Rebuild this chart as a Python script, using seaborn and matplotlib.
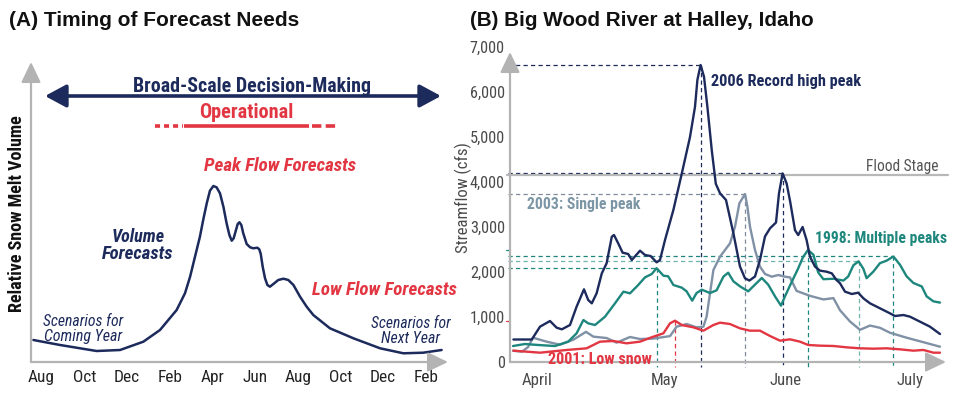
import numpy as np
import pandas as pd
import matplotlib
matplotlib.use("Agg")
import matplotlib.pyplot as plt
import seaborn as sns
from matplotlib import font_manager as fm

# ---------------- data: panel A (conceptual snow-melt curve) ----------------
# x = months after the first August (0=Aug, 2=Oct, ... 18=Feb)
months_A = [-0.38, 0.87, 2.58, 3.68, 4.77, 5.55, 6.33, 6.72, 6.96, 7.19, 7.42,
            7.58, 7.74, 7.89, 8.05, 8.20, 8.36, 8.52, 8.67, 8.80, 8.91, 9.00,
            9.11, 9.19, 9.27, 9.36, 9.45, 9.61, 9.77, 9.92, 10.11, 10.20, 10.27,
            10.36, 10.47, 10.58, 10.70, 10.86, 11.09, 11.33, 11.56, 11.80, 12.11,
            12.42, 12.73, 13.51, 14.61, 15.86, 16.95, 17.88, 18.74]
volume_A = [22, 17, 11, 12, 20.3, 32, 52, 68.7, 85.3, 105.3, 125.3,
            142.7, 158.7, 171.3, 176, 174.7, 168.7, 155.3, 138.7, 127, 121.3, 123.7,
            132, 138, 139.7, 137, 128.7, 118, 114.7, 113.7, 114.3, 112.7, 108,
            95.3, 83.7, 77, 75.3, 78, 82, 83.3, 82, 77, 65.3,
            55.3, 47, 33.7, 23.7, 13.7, 8.7, 9.3, 12]
ticks_A = [0, 2, 4, 6, 8, 10, 12, 14, 16, 18]
ticklabels_A = ["Aug", "Oct", "Dec", "Feb", "Apr", "Jun", "Aug", "Oct", "Dec", "Feb"]

# ---------------- data: panel B (Big Wood River streamflow, cfs) ----------------
# x = days after 1 April
day_2006 = [0.1, 4.7, 6.75, 9.25, 10.9, 12.2, 14.25, 15.9, 17.75, 18.8, 19.7, 20.9,
            22.2, 23.4, 24.7, 25.25, 26.3, 27.4, 28.8, 29.7, 31.75, 33.0, 34.4,
            35.9, 36.75, 38.0, 40.1, 42.2, 44.25, 45.5, 46.1, 46.9, 47.75, 48.6,
            49.7, 50.7, 51.75, 53.25, 53.8, 55.1, 56.75, 58.0, 59.1, 60.5, 61.75,
            63.0, 64.25, 65.75, 66.5, 67.4, 68.4, 69.3, 70.5, 71.3, 72.4, 73.4,
            74.25, 75.5, 76.75, 78.4, 79.7, 80.9, 81.75, 83.0, 84.7, 86.3, 87.6,
            89.25, 91.75, 94.25, 95.5, 97.6, 99.25, 101.75, 104.25, 106.75]
cfs_2006 = [500, 500, 785, 911, 763, 726, 822, 1230, 1615, 1378, 1304, 1526,
            1970, 2193, 2785, 2822, 2637, 2430, 2400, 2267, 2474, 2378, 2355,
            2215, 2267, 2710, 3380, 4190, 5000, 5670, 6270, 6600, 6340, 5670,
            4700, 3960, 3750, 3600, 3380, 2860, 2120, 1860, 1810, 1900, 2270,
            2790, 2970, 3100, 3750, 4190, 3970, 3560, 2930, 2820, 3000, 2710,
            2340, 2120, 2030, 2007, 1970, 1820, 1750, 1563, 1511, 1540, 1415,
            1304, 1193, 1081, 1022, 1044, 1007, 896, 785, 622]

day_2003 = [0, 2.25, 3.75, 5, 8.4, 11.75, 15.1, 18.25, 20.1, 23.4, 25.9, 29.25,
            31.75, 35, 39.25, 40.9, 43.4, 45.9, 47.6, 48.4, 49.25, 50.1, 51.75,
            54.25, 55.5, 56.6, 58, 58.6, 59.25, 60.5, 61.75, 63, 64.7, 66.3, 68,
            69.25, 70.9, 74.25, 77.6, 80.1, 81.75, 84.25, 86.75, 89.25, 91.75,
            94.25, 98.4, 102.6, 106.75]
cfs_2003 = [250, 230, 330, 540, 452, 385, 496, 670, 563, 533, 430, 556,
            511, 520, 575, 785, 844, 770, 785, 1007, 1526, 2044, 2340,
            2637, 3007, 3526, 3733, 3452, 3007, 2489, 2118, 1956, 1896, 1933, 1896,
            1880, 1580, 1470, 1390, 1420, 1150, 900, 715, 810, 760,
            650, 540, 440, 340]

day_1998 = [0, 3, 6.3, 10.5, 13.8, 15.9, 17.6, 18.8, 20.5, 23, 25.5, 27.6, 29.25,
            31.3, 33, 34.7, 35.9, 37.6, 38.8, 40.1, 42.2, 43.4, 44.8, 45.9, 47.2,
            49.25, 50.9, 52.6, 53.8, 55.1, 56.75, 58.8, 60.5, 62.2, 63.8, 65.5,
            67, 68, 69.25, 71.3, 72.5, 73.75, 75.1, 76.3, 77.6, 80.1, 82.6, 83.8,
            85.1, 86.4, 87.6, 88.4, 90.1, 91.75, 93.4, 95.1, 96.75, 98.4, 100.1,
            102.2, 103.4, 105.1, 106.75]
cfs_1998 = [355, 400, 378, 355, 452, 637, 933, 859, 822, 1007, 1304, 1563, 1526,
            1711, 1881, 1956, 2085, 1919, 1904, 1711, 1652, 1570, 1363, 1533, 1607,
            1533, 1593, 1896, 1985, 1793, 1681, 1570, 1719, 1867, 1719, 1459,
            1252, 1459, 1700, 2081, 2330, 2489, 2385, 1990, 1840, 1850, 1810, 1900,
            2150, 2237, 2070, 1862, 2010, 2197, 2252, 2345, 2160, 1904, 1756,
            1678, 1459, 1348, 1320]

day_2001 = [0.1, 6.75, 13.4, 18.4, 21.75, 25.1, 28.4, 31.75, 35.1, 37.6, 39.25,
            40.5, 42.2, 45.1, 47.6, 50.1, 51.75, 54.25, 56.75, 59.25, 61.75, 64.25,
            66.75, 69.25, 71.75, 73.8, 76.75, 80.1, 83.4, 86.75, 90.1, 93.4, 96.75,
            100.1, 102.6, 105.1, 106.75]
cfs_2001 = [252, 207, 267, 304, 452, 467, 415, 452, 563, 637, 859,
            918, 822, 770, 696, 822, 874, 844, 748, 696, 696, 578,
            474, 504, 452, 378, 363, 356, 326, 304, 296, 304, 281,
            252, 267, 207, 207]

FLOOD_STAGE = 4150
ticks_B = [6, 38, 68.25, 99.25]
ticklabels_B = ["April", "May", "June", "July"]
yticks_B = [0, 1000, 2000, 3000, 4000, 5000, 6000, 7000]

# ---------------- style ----------------
sns.set_theme(style="white")
names = {f.name for f in fm.fontManager.ttflist}
NARROW = "Liberation Sans"
for cand in ["Liberation Sans Narrow", "Arial Narrow", "Roboto Condensed",
             "Noto Sans Condensed", "Open Sans Condensed", "DejaVu Sans Condensed"]:
    if cand in names:
        NARROW = cand
        break
WIDE = "Liberation Sans"
plt.rcParams["font.family"] = [NARROW, "DejaVu Sans"]

NAVY = "#1c2a5c"
RED = "#e23642"
TEAL = "#1e877d"
SLATE = "#8091a6"
SLATE_TXT = "#7d96a5"
AXGREY = "#b3b3b3"
TXTGREY = "#4a4a4a"

W, H = 954, 395
fig = plt.figure(figsize=(W / 100, H / 100), dpi=100)
fig.patch.set_facecolor("white")
R = fig.canvas.get_renderer()


def fx(px):
    return px / W


def fy(py):
    return 1 - py / H


def size_for(s, target, family=None, **kw):
    fam = family if family is not None else [NARROW, "DejaVu Sans"]
    t = fig.text(0, 0, s, fontsize=10, family=fam, **kw)
    w = t.get_window_extent(R).width
    t.remove()
    return 10 * target / w


def label(px, py, s, target, ha="center", va="center", family=None, **kw):
    fam = family if family is not None else [NARROW, "DejaVu Sans"]
    fs = size_for(s, target, family=fam, **{k: v for k, v in kw.items()
                                            if k in ("fontweight", "fontstyle")})
    return fig.text(fx(px), fy(py), s, fontsize=fs, ha=ha, va=va, family=fam, **kw)


# ---------------- Panel A ----------------
A_X0, A_DX = 41.5, 21.35
axA = fig.add_axes([fx(20), fy(362), fx(455) - fx(20), fy(55) - fy(362)])
axA.set_xlim((20 - A_X0) / A_DX, (455 - A_X0) / A_DX)
axA.set_ylim(0, 307)
dfA = pd.DataFrame({"month": months_A, "volume": volume_A})
sns.lineplot(data=dfA, x="month", y="volume", ax=axA, color=NAVY, linewidth=1.8,
             sort=False, estimator=None)

mA0 = (31 - A_X0) / A_DX
arrowkw = dict(arrowstyle="-|>,head_length=1.25,head_width=0.6", color=AXGREY,
               lw=1.6, shrinkA=0, shrinkB=0, mutation_scale=10)
axA.annotate("", xy=(mA0, 300), xytext=(mA0, 0), arrowprops=arrowkw, annotation_clip=False)
axA.annotate("", xy=((448 - A_X0) / A_DX, 0), xytext=(mA0, 0), arrowprops=arrowkw,
             annotation_clip=False)

# broad-scale decision-making double arrow
axA.annotate("", xy=((441 - A_X0) / A_DX, 266), xytext=((45 - A_X0) / A_DX, 266),
             arrowprops=dict(arrowstyle="<|-|>,head_length=1.3,head_width=0.7",
                             color=NAVY, lw=2.6, shrinkA=0, shrinkB=0, mutation_scale=10),
             annotation_clip=False)
# operational bar
yop = 236
axA.plot([(155 - A_X0) / A_DX, (183 - A_X0) / A_DX], [yop, yop], color=RED, lw=2.6,
         dashes=(1.4, 1.1), solid_capstyle="butt", dash_capstyle="butt")
axA.plot([(184 - A_X0) / A_DX, (309 - A_X0) / A_DX], [yop, yop], color=RED, lw=2.6,
         solid_capstyle="butt")
axA.plot([(312 - A_X0) / A_DX, (338 - A_X0) / A_DX], [yop, yop], color=RED, lw=2.6,
         dashes=(2.6, 1.2), dash_capstyle="butt")

axA.set_xticks(ticks_A)
axA.set_xticklabels(ticklabels_A)
axA.set_yticks([])
axA.tick_params(axis="x", length=0, pad=11.0, colors="#222222",
                labelsize=size_for("Aug", 26.7))
for lab in axA.get_xticklabels():
    lab.set_va("center")
axA.set_ylabel("Relative Snow Melt Volume", fontweight="bold", color="#111111",
               fontsize=size_for("Relative Snow Melt Volume", 197, fontweight="bold"),
               va="center")
axA.yaxis.set_label_coords((17 - 20) / 435, (362 - 213.5) / 307)

# ---------------- Panel B ----------------
B_X0, B_DX = 513.0, 4.0
axB = fig.add_axes([fx(506), fy(362), fx(948) - fx(506), fy(47) - fy(362)])
axB.set_xlim((506 - B_X0) / B_DX, (948 - B_X0) / B_DX)
axB.set_ylim(0, 7000)

series = [
    (day_2003, cfs_2003, SLATE, 3),
    (day_1998, cfs_1998, TEAL, 4),
    (day_2006, cfs_2006, NAVY, 5),
    (day_2001, cfs_2001, RED, 6),
]
for d, v, c, z in series:
    dfs = pd.DataFrame({"day": d, "cfs": v})
    sns.lineplot(data=dfs, x="day", y="cfs", ax=axB, color=c, linewidth=1.7,
                 sort=False, estimator=None, zorder=z)

# flood stage
xl = axB.get_xlim()
axB.plot([(507 - B_X0) / B_DX, xl[1]], [FLOOD_STAGE, FLOOD_STAGE], color="#b8b8b8",
         lw=1.6, zorder=2, clip_on=False)


# reference dashed lines to peaks
def peak(days, vals, lo, hi):
    days = np.asarray(days)
    vals = np.asarray(vals)
    m = (days >= lo) & (days <= hi)
    i = np.argmax(np.where(m, vals, -1))
    return days[i], vals[i]


x_left = (508 - B_X0) / B_DX
y_bot = -115
dash = dict(lw=0.9, dashes=(3.4, 2.6), zorder=1, clip_on=False)
refs = [
    (peak(day_2006, cfs_2006, 40, 55), NAVY, True),
    (peak(day_2006, cfs_2006, 60, 75), NAVY, True),
    (peak(day_2003, cfs_2003, 50, 65), "#7f8a9c", True),
    (peak(day_1998, cfs_1998, 30, 40), TEAL, True),
    (peak(day_1998, cfs_1998, 84, 89), "#6fb3ab", True),
    (peak(day_1998, cfs_1998, 92, 98), TEAL, True),
    (peak(day_1998, cfs_1998, 70, 78), TEAL, False),
    (peak(day_2001, cfs_2001, 35, 45), RED, False),
]
for (px_, pv), col, horiz in refs:
    if horiz:
        axB.plot([x_left, px_], [pv, pv], color=col, **dash)
    else:
        axB.plot([x_left - 0.4, x_left + 0.6], [pv, pv], color=col, lw=0.9, clip_on=False)
    axB.plot([px_, px_], [pv, y_bot], color=col, **dash)

# axes arrows
dB0 = (510 - B_X0) / B_DX
axB.annotate("", xy=(dB0, (362 - 52) / 0.045), xytext=(dB0, 0), arrowprops=arrowkw,
             annotation_clip=False)
axB.annotate("", xy=((946 - B_X0) / B_DX, 0), xytext=(dB0, 0), arrowprops=arrowkw,
             annotation_clip=False)

axB.set_xticks(ticks_B)
axB.set_xticklabels(ticklabels_B)
axB.set_yticks(yticks_B)
axB.set_yticklabels([f"{v:,}" for v in yticks_B])
axB.tick_params(axis="x", length=0, pad=13.4, colors=TXTGREY,
                labelsize=size_for("April", 30.7))
for lab in axB.get_xticklabels():
    lab.set_va("center")
axB.tick_params(axis="y", length=0, pad=0.8, colors=TXTGREY,
                labelsize=size_for("7,000", 35))
axB.set_ylabel("Streamflow (cfs)", color=TXTGREY,
               fontsize=size_for("Streamflow (cfs)", 110), va="center")
axB.yaxis.set_label_coords((463 - 506) / 442, (362 - 197.5) / 315)

for ax in (axA, axB):
    ax.set_facecolor("none")
    for s in ax.spines.values():
        s.set_visible(False)
    ax.grid(False)
    ax.set_xlabel("")

# ---------------- texts ----------------
label(9, 21, "(A) Timing of Forecast Needs", 289, ha="left", family=[WIDE, "DejaVu Sans"],
      fontweight="bold", color="#111111")
label(470, 21, "(B) Big Wood River at Halley, Idaho", 344, ha="left",
      family=[WIDE, "DejaVu Sans"], fontweight="bold", color="#111111")

label(252, 86, "Broad-Scale Decision-Making", 238, fontweight="bold", color=NAVY)
label(246, 113, "Operational", 94, fontweight="bold", color=RED)
label(280, 166, "Peak Flow Forecasts", 152, fontweight="bold", fontstyle="italic", color=RED)
label(138, 237.5, "Volume", 53, fontweight="bold", fontstyle="italic", color=NAVY)
label(137.5, 253.7, "Forecasts", 71.7, fontweight="bold", fontstyle="italic", color=NAVY)
label(384.5, 289.7, "Low Flow Forecasts", 145.7, fontweight="bold", fontstyle="italic",
      color=RED)
label(83, 321.5, "Scenarios for", 80.7, fontstyle="italic", color=NAVY)
label(83.5, 336.5, "Coming Year", 78.4, fontstyle="italic", color=NAVY)
label(410.7, 323.5, "Scenarios for", 80, fontstyle="italic", color=NAVY)
label(410.5, 338.5, "Next Year", 59, fontstyle="italic", color=NAVY)

label(710.7, 81.7, "2006 Record high peak", 149, ha="left", fontweight="bold", color=NAVY)
label(526.7, 204, "2003: Single peak", 114, ha="left", fontweight="bold", color=SLATE_TXT)
label(815, 238.3, "1998: Multiple peaks", 131.7, ha="left", fontweight="bold", color=TEAL)
label(548.3, 360, "2001: Low snow", 104, ha="left", fontweight="bold", color=RED)
label(939, 166.7, "Flood Stage", 73, ha="right", color="#555555")

fig.savefig("out.png", dpi=100, facecolor="white")
